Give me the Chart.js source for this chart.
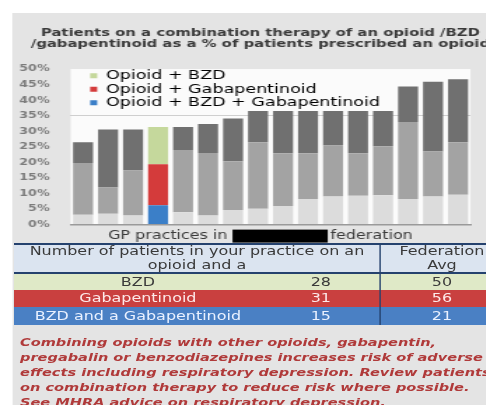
<!DOCTYPE html>
<html>
<head>
<meta charset="utf-8">
<script src="https://cdn.jsdelivr.net/npm/chart.js@4.4.1/dist/chart.umd.min.js"></script>
<style>
  html, body { margin: 0; padding: 0; width: 486px; height: 405px; overflow: hidden; background: #fff; }
  /* the source picture is stretched sideways, so the whole page is laid out narrow and scaled */
  #page { position: absolute; left: 0; top: 0; width: 347px; height: 405px; transform: scaleX(1.4); transform-origin: 0 0; font-family: "DejaVu Sans", sans-serif; }
  #bg { position: absolute; left: 9.3px; top: 13px; width: 360px; height: 392px; background: #e4e4e4; }
  #chartBox { position: absolute; left: 9.3px; top: 13px; }
  #tbl { position: absolute; left: 10px; top: 243px; width: 350px; height: 82px; font-size: 11.4px; color: #3a3a3a; }
  #tbl div { position: absolute; text-align: center; white-space: nowrap; }
  .line { background: #25426e; }
  #note { position: absolute; left: 14.3px; top: 334.5px; font-size: 10.4px; font-weight: bold; font-style: italic; line-height: 15px; color: #b03a3a; white-space: pre; }
</style>
</head>
<body>
<div id="page">
  <div id="bg"></div>
  <div id="chartBox"><canvas id="chart" width="354" height="232"></canvas></div>
  <div id="tbl"></div>
  <div id="note"></div>
</div>
<script>
// 16 GP practices, the 4th one is "your practice"
const practices = ["P1", "P2", "P3", "P4", "P5", "P6", "P7", "P8", "P9", "P10", "P11", "P12", "P13", "P14", "P15", "P16"];
const yourPractice = 3;

// % of opioid patients, stacked bottom to top
const bothPct = [3.2, 3.5, 2.9, 6.2, 4.0, 2.9, 4.7, 5.1, 6.0, 8.2, 9.0, 9.3, 9.4, 8.2, 9.0, 9.6];
const gabaPct = [16.6, 8.4, 14.5, 13.2, 20.0, 20.1, 15.7, 21.4, 16.9, 14.7, 16.4, 13.6, 15.8, 24.8, 14.5, 16.9];
const bzdPct = [6.7, 18.7, 13.2, 12.0, 7.4, 9.3, 13.7, 10.0, 13.6, 13.6, 11.1, 13.6, 11.3, 11.4, 22.4, 20.2];

const yTicks = [0, 5, 10, 15, 20, 25, 30, 35, 40, 45, 50];

const titleLines = [
  "Patients on a combination therapy of an opioid /BZD",
  "/gabapentinoid as a % of patients prescribed an opioid"
];
const legendLabels = ["Opioid + BZD", "Opioid + Gabapentinoid", "Opioid + BZD + Gabapentinoid"];
const axisLeft = "GP practices in";
const axisRight = "federation";

// table
const headerLines = ["Number of patients in your practice on an", "opioid and a"];
const avgHeader = ["Federation", "Avg"];
const rowLabels = ["BZD", "Gabapentinoid", "BZD and a Gabapentinoid"];
const practiceCounts = [28, 31, 15];
const federationAvg = [50, 56, 21];

const noteLines = [
  "Combining opioids with other opioids, gabapentin,",
  "pregabalin or benzodiazepines increases risk of adverse",
  "effects including respiratory depression. Review patients",
  "on combination therapy to reduce risk where possible.",
  "See MHRA advice on respiratory depression."
];

const font = "DejaVu Sans";
const green = "#c5d89c", red = "#d43b3b", blue = "#3b7fc8";

function paint(grey, own) {
  return practices.map((p, i) => i === yourPractice ? own : grey);
}

const backdrop = {
  id: "backdrop",
  beforeDraw(chart) {
    const { ctx, chartArea: a } = chart;
    ctx.save();
    ctx.fillStyle = "#e4e4e4";
    ctx.fillRect(0, 0, chart.width, chart.height);
    ctx.fillStyle = "#fbfbfb";
    ctx.fillRect(a.left, a.top, a.right - a.left, a.bottom - a.top);
    ctx.restore();
  }
};

// legend sits inside the plot, a little in from the corner
const legendNudge = {
  id: "legendNudge",
  afterLayout(chart) {
    const a = chart.chartArea, lg = chart.legend;
    lg.left = a.left + 13;
    lg.right = a.right;
    lg.top = a.top - 0.5;
    lg.bottom = a.bottom;
  }
};

// x axis caption with the practice name blacked out
const axisCaption = {
  id: "axisCaption",
  afterDraw(chart) {
    const { ctx, chartArea: a } = chart;
    ctx.save();
    ctx.font = "11.4px '" + font + "'";
    ctx.textBaseline = "middle";
    const w1 = ctx.measureText(axisLeft).width;
    const w2 = ctx.measureText(axisRight).width;
    const boxW = 68;
    let x = chart.width / 2 - (w1 + 3.6 + boxW + 2 + w2) / 2;
    const y = a.bottom + 11;
    ctx.fillStyle = "#3a3a3a";
    ctx.fillText(axisLeft, x, y);
    x += w1 + 3.6;
    ctx.fillStyle = "#000";
    ctx.fillRect(x, a.bottom + 5, boxW, 13);
    x += boxW + 2;
    ctx.fillStyle = "#3a3a3a";
    ctx.fillText(axisRight, x, y);
    ctx.restore();
  }
};

new Chart(document.getElementById("chart"), {
  type: "bar",
  data: {
    labels: practices,
    datasets: [
      { label: legendLabels[2], data: bothPct, backgroundColor: paint("#dcdcdc", blue) },
      { label: legendLabels[1], data: gabaPct, backgroundColor: paint("#a3a3a3", red) },
      { label: legendLabels[0], data: bzdPct, backgroundColor: paint("#707070", green) }
    ]
  },
  options: {
    responsive: false,
    animation: false,
    layout: { padding: { bottom: 17 } },
    datasets: { bar: { barPercentage: 0.8, categoryPercentage: 1, borderWidth: 0 } },
    plugins: {
      tooltip: { enabled: false },
      title: {
        display: true,
        text: titleLines,
        color: "#3a3a3a",
        font: { family: font, size: 10.6, weight: "bold", lineHeight: 1.04 },
        padding: { top: 15, bottom: 19 }
      },
      legend: {
        position: "chartArea",
        align: "start",
        labels: {
          color: "#555",
          font: { family: font, size: 12.5 },
          boxWidth: 5,
          boxHeight: 5,
          padding: 1,
          generateLabels: () => legendLabels.map((text, i) => ({
            text,
            fillStyle: [green, red, blue][i],
            strokeStyle: [green, red, blue][i],
            lineWidth: 0,
            hidden: false
          }))
        }
      }
    },
    scales: {
      x: {
        stacked: true,
        ticks: { display: false },
        grid: { display: false, drawTicks: false },
        border: { color: "#9a9a9a", width: 1.5 }
      },
      y: {
        stacked: true,
        min: yTicks[0],
        max: yTicks[yTicks.length - 1],
        afterBuildTicks: s => { s.ticks = yTicks.map(v => ({ value: v })); },
        ticks: {
          padding: 15,
          color: "#7c7c7c",
          font: { family: font, size: 9, weight: "bold" },
          callback: v => v + "%"
        },
        grid: { drawTicks: false, color: c => c.tick && c.tick.value === 35 ? "#cfcfcf" : "rgba(0,0,0,0)" },
        border: { display: false },
        afterFit: s => { s.width = 41.4; }
      },
      yPad: {
        type: "linear",
        position: "right",
        ticks: { display: false },
        grid: { display: false, drawTicks: false },
        border: { display: false },
        afterFit: s => { s.width = 26.9; }
      }
    }
  },
  plugins: [backdrop, legendNudge, axisCaption]
});

// table under the chart
const rowStyles = [
  { bg: "#dfe9c7", fg: "#3a3a3a", top: 31, h: 16 },
  { bg: "#c9403f", fg: "#fde9e9", top: 47, h: 17 },
  { bg: "#4a80c4", fg: "#eaf1ff", top: 64, h: 18 }
];
const colA = 177, colB = 84.4, colC = 88.6;
let html = '<div class="line" style="left:0;top:0;width:350px;height:2px"></div>' +
  '<div style="left:0;top:2px;width:350px;height:27px;background:#dbe4f0"></div>' +
  '<div style="left:0;top:2px;width:' + (colA + colB) + 'px;line-height:13.5px">' + headerLines.join("<br>") + '</div>' +
  '<div style="left:' + (colA + colB) + 'px;top:2px;width:' + colC + 'px;line-height:13.5px">' + avgHeader.join("<br>") + '</div>' +
  '<div class="line" style="left:0;top:29px;width:350px;height:2px"></div>';
rowLabels.forEach((label, i) => {
  const r = rowStyles[i];
  const base = "top:" + r.top + "px;height:" + r.h + "px;line-height:" + r.h + "px;color:" + r.fg + ";";
  html += '<div style="left:0;width:350px;' + base + 'background:' + r.bg + '"></div>' +
    '<div style="left:0;width:' + colA + 'px;' + base + '">' + label + '</div>' +
    '<div style="left:' + colA + 'px;width:' + colB + 'px;' + base + '">' + practiceCounts[i] + '</div>' +
    '<div style="left:' + (colA + colB) + 'px;width:' + colC + 'px;' + base + '">' + federationAvg[i] + '</div>';
});
html += '<div class="line" style="left:' + (colA + colB - 0.75) + 'px;top:0;width:1.5px;height:82px"></div>';
document.getElementById("tbl").innerHTML = html;

document.getElementById("note").textContent = noteLines.join("\n");
</script>
</body>
</html>
